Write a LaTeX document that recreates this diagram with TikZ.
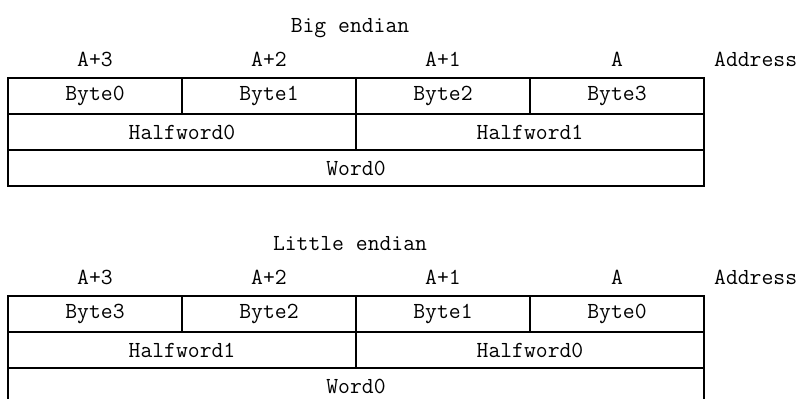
\documentclass[tikz,border=0pt]{standalone}
\usetikzlibrary{positioning}

\newcommand{\memfont}{\fontsize{23}{27}\selectfont\ttfamily}
\tikzset{
	cell/.style={draw, line width=1.5pt, inner sep=0pt, minimum height=36pt, font=\memfont},
	lbl/.style={inner sep=0pt, anchor=base, font=\memfont},
}

\begin{document}
\begin{tikzpicture}[x=1pt,y=-1pt]
\useasboundingbox (0,0) rectangle (801,399);
\clip (0,0) rectangle (801,399);
\foreach \t/\y/\title/\ba/\bb/\bc/\bd/\ha/\hb in {big/0/Big endian/0/1/2/3/0/1,lit/218/Little endian/3/2/1/0/1/0} {
	\node[lbl] (\t-title) at (350,32+\y) {\title};
	\foreach \i/\a in {0/A+3,1/A+2,2/A+1,3/A} {
		\node[lbl] (\t-addr\i) at (95+\i*174,66+\y) {\a};
	}
	\node[lbl, anchor=base west] (\t-addr) at (714,66+\y) {Address};
	\node[cell, minimum width=174pt] (\t-b0) at (95,96+\y) {Byte\ba};
	\node[cell, minimum width=174pt] (\t-b1) at (269,96+\y) {Byte\bb};
	\node[cell, minimum width=174pt] (\t-b2) at (443,96+\y) {Byte\bc};
	\node[cell, minimum width=174pt] (\t-b3) at (617,96+\y) {Byte\bd};
	\node[cell, minimum width=348pt] (\t-h0) at (182,132+\y) {Halfword\ha};
	\node[cell, minimum width=348pt] (\t-h1) at (530,132+\y) {Halfword\hb};
	\node[cell, minimum width=696pt] (\t-w) at (356,168+\y) {Word0};
}
\end{tikzpicture}
\end{document}
